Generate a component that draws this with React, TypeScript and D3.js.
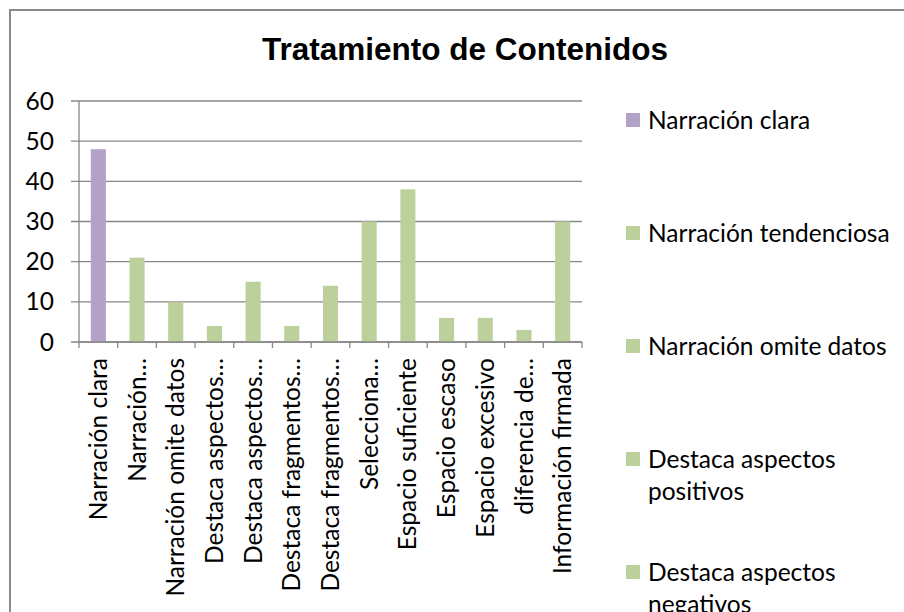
import React, { useEffect, useRef } from 'react';
import * as d3 from 'd3';

const tickLabels = [
  'Narración clara',
  'Narración…',
  'Narración omite datos',
  'Destaca aspectos…',
  'Destaca aspectos…',
  'Destaca fragmentos…',
  'Destaca fragmentos…',
  'Selecciona…',
  'Espacio suficiente',
  'Espacio escaso',
  'Espacio excesivo',
  'diferencia de…',
  'Información firmada',
];

const legendLabels = [
  'Narración clara',
  'Narración tendenciosa',
  'Narración omite datos',
  'Destaca aspectos positivos',
  'Destaca aspectos negativos',
  'Destaca fragmentos positivos',
  'Destaca fragmentos negativos',
  'Selecciona información',
  'Espacio suficiente',
  'Espacio escaso',
  'Espacio excesivo',
  'diferencia de opinión',
  'Información firmada',
];

const values = [48, 21, 10, 4, 15, 4, 14, 30, 38, 6, 6, 3, 30];
const yTicks = [0, 10, 20, 30, 40, 50, 60];
const title = 'Tratamiento de Contenidos';

const PURPLE = '#b3a2c7';
const GREEN = '#bbd09a';
const GRID = '#878787';
const FONT = 'Lato, "Open Sans", sans-serif';
const FS = 24.5;

export default function App() {
  const ref = useRef<SVGSVGElement>(null);

  useEffect(() => {
    const svg = d3.select(ref.current);
    svg.selectAll('*').remove();

    const W = 904, H = 612;
    const left = 79, right = 582, top = 101, bottom = 342;

    // outer frame
    svg.append('rect')
      .attr('x', 10).attr('y', 10).attr('width', 1200).attr('height', 1200)
      .attr('fill', '#fff').attr('stroke', '#8a8a8a').attr('stroke-width', 2);

    // title
    svg.append('text')
      .attr('x', 465).attr('y', 60)
      .attr('text-anchor', 'middle')
      .attr('font-family', '"Liberation Sans", Arial, sans-serif')
      .attr('font-weight', 'bold').attr('font-size', 31.5)
      .attr('fill', '#000')
      .text(title);

    const x = d3.scaleBand<number>()
      .domain(d3.range(values.length))
      .range([left, right])
      .paddingInner(0.61).paddingOuter(0.305);
    const xb = d3.scaleBand<number>()
      .domain(d3.range(values.length))
      .range([left, right]);
    const y = d3.scaleLinear().domain([0, 60]).range([bottom, top]);

    // gridlines + y ticks
    const g = svg.append('g');
    g.selectAll('line.grid').data(yTicks).enter().append('line')
      .attr('x1', left - 8).attr('x2', right)
      .attr('y1', d => y(d)).attr('y2', d => y(d))
      .attr('stroke', GRID).attr('stroke-width', 1.3);
    g.selectAll('text.ytick').data(yTicks).enter().append('text')
      .attr('x', 54).attr('y', d => y(d))
      .attr('dy', '0.35em')
      .attr('text-anchor', 'end')
      .attr('font-family', FONT).attr('font-size', FS)
      .attr('fill', '#000')
      .text(d => String(d));

    // y axis line
    g.append('line')
      .attr('x1', left).attr('x2', left).attr('y1', top).attr('y2', bottom)
      .attr('stroke', GRID).attr('stroke-width', 1.3);

    // bars
    svg.append('g').selectAll('rect').data(values).enter().append('rect')
      .attr('x', (_, i) => x(i)!)
      .attr('width', x.bandwidth())
      .attr('y', d => y(d))
      .attr('height', d => y(0) - y(d))
      .attr('fill', (_, i) => (i === 0 ? PURPLE : GREEN));

    // x axis line and ticks
    svg.append('line')
      .attr('x1', left).attr('x2', right).attr('y1', bottom).attr('y2', bottom)
      .attr('stroke', GRID).attr('stroke-width', 1.3);
    const bounds = d3.range(values.length + 1).map(i => (i < values.length ? xb(i)! : right));
    svg.append('g').selectAll('line').data(bounds).enter().append('line')
      .attr('x1', d => d).attr('x2', d => d).attr('y1', bottom).attr('y2', bottom + 6)
      .attr('stroke', GRID).attr('stroke-width', 1.3);

    // category labels
    svg.append('g').selectAll('text').data(tickLabels).enter().append('text')
      .attr('transform', (_, i) => `translate(${xb(i)! + xb.bandwidth() / 2},${bottom + 16}) rotate(-90)`)
      .attr('dy', '0.35em')
      .attr('text-anchor', 'end')
      .attr('font-family', FONT).attr('font-size', FS)
      .attr('fill', '#000')
      .text(d => d);

    // legend (entries below the visible area are not drawn)
    const lg = svg.append('g');
    const maxW = 252;
    legendLabels.forEach((label, i) => {
      const cy = 120 + i * 113;
      if (cy > H) return;
      lg.append('rect')
        .attr('x', 626).attr('y', cy - 7).attr('width', 14).attr('height', 14)
        .attr('fill', i === 0 ? PURPLE : GREEN);
      const t = lg.append('text')
        .attr('x', 648).attr('y', cy)
        .attr('font-family', FONT).attr('font-size', FS)
        .attr('fill', '#000');
      const words = label.split(' ');
      let line: string[] = [];
      let lineNo = 0;
      let tspan = t.append('tspan').attr('x', 648).attr('y', cy).attr('dy', '0.35em');
      for (const w of words) {
        line.push(w);
        tspan.text(line.join(' '));
        const node = tspan.node() as SVGTSpanElement;
        if (node.getComputedTextLength() > maxW && line.length > 1) {
          line.pop();
          tspan.text(line.join(' '));
          line = [w];
          lineNo++;
          tspan = t.append('tspan').attr('x', 648).attr('y', cy + lineNo * 32).attr('dy', '0.35em').text(w);
        }
      }
    });
  }, []);

  return (
    <svg
      ref={ref}
      width={904}
      height={612}
      style={{ position: 'absolute', left: 0, top: 0, background: '#fff' }}
    />
  );
}
